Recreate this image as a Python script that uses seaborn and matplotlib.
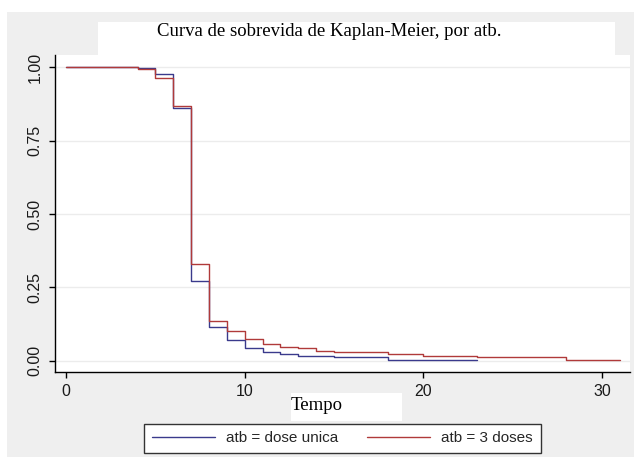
import numpy as np
import pandas as pd
import matplotlib
matplotlib.use('Agg')
import matplotlib.pyplot as plt
import seaborn as sns
from matplotlib.patches import Rectangle

# Kaplan-Meier estimates (tempo, sobrevida)
tempo_unica = [0, 4, 5, 6, 7, 8, 9, 10, 11, 12, 13, 15, 18, 23]
surv_unica = [1.0, 0.998, 0.976, 0.862, 0.271, 0.114, 0.069, 0.045, 0.028, 0.024, 0.016, 0.012, 0.003, 0.003]

tempo_3doses = [0, 4, 5, 6, 7, 8, 9, 10, 11, 12, 13, 14, 15, 18, 20, 23, 28, 31]
surv_3doses = [1.0, 0.995, 0.962, 0.869, 0.330, 0.135, 0.102, 0.074, 0.057, 0.048, 0.044, 0.032, 0.028, 0.024,
               0.016, 0.0115, 0.003, 0.003]

grupos = ['atb = dose unica', 'atb = 3 doses']
cores = ['#3a3a8c', '#b03a3a']
yticks = [0, 0.25, 0.5, 0.75, 1.0]
ytick_labels = ['0.00', '0.25', '0.50', '0.75', '1.00']
xticks = [0, 10, 20, 30]

df = pd.concat([
    pd.DataFrame({'tempo': tempo_unica, 'sobrevida': surv_unica, 'atb': grupos[0]}),
    pd.DataFrame({'tempo': tempo_3doses, 'sobrevida': surv_3doses, 'atb': grupos[1]}),
])

sns.set_style('white')
plt.rcParams['font.family'] = ['Liberation Sans', 'DejaVu Sans']

W, H = 641, 467
fig = plt.figure(figsize=(W / 100, H / 100), dpi=100, facecolor='white')

def fx(px):
    return px / W

def fy(py):
    return 1 - py / H

# gray backdrop and white boxes (Stata look)
fig.patches.append(Rectangle((fx(7), fy(457)), fx(634) - fx(7), fy(12) - fy(457),
                             transform=fig.transFigure, facecolor='#efefef', edgecolor='none', zorder=-2))
fig.patches.append(Rectangle((fx(98), fy(56)), fx(615) - fx(98), fy(22) - fy(56),
                             transform=fig.transFigure, facecolor='white', edgecolor='none', zorder=-1))
fig.patches.append(Rectangle((fx(291), fy(421)), fx(402) - fx(291), fy(393) - fy(421),
                             transform=fig.transFigure, facecolor='white', edgecolor='none', zorder=-1))

ax = fig.add_axes([fx(55), fy(372), fx(630) - fx(55), fy(55) - fy(372)])
ax.set_zorder(1)
ax.set_facecolor('white')

sns.lineplot(data=df, x='tempo', y='sobrevida', hue='atb', hue_order=grupos, palette=cores,
             drawstyle='steps-post', estimator=None, linewidth=1.0, ax=ax)

ax.set_xlim(-0.62, 31.56)
ax.set_ylim(-0.0385, 1.042)
ax.set_xticks(xticks)
ax.set_xticklabels([str(t) for t in xticks])
ax.set_yticks(yticks)
ax.set_yticklabels(ytick_labels, rotation=90, va='center')
ax.yaxis.grid(True, color='#ececec', linewidth=1)
ax.xaxis.grid(False)
ax.set_xlabel('')
ax.set_ylabel('')

for s in ['top', 'right']:
    ax.spines[s].set_visible(False)
for s in ['left', 'bottom']:
    ax.spines[s].set_color('black')
    ax.spines[s].set_linewidth(1)

ax.tick_params(axis='both', which='major', length=4, width=1, color='black',
               labelsize=11.5, labelcolor='#1a1a1a', bottom=True, left=True)
ax.tick_params(axis='x', pad=5)
ax.tick_params(axis='y', pad=5)

fig.text(fx(329), fy(31), 'Curva de sobrevida de Kaplan-Meier, por atb.', ha='center', va='center',
         family='Liberation Serif', fontsize=13.5, color='black')
fig.text(fx(291), fy(406), 'Tempo', ha='left', va='center',
         family='Liberation Serif', fontsize=13.5, color='black')

handles, labels = ax.get_legend_handles_labels()
ax.get_legend().remove()
leg = fig.legend(handles, labels, loc='center', bbox_to_anchor=(fx(342.5), fy(438.5)), ncol=2,
                 frameon=True, fancybox=False, edgecolor='#333333', facecolor='white', framealpha=1,
                 fontsize=11, handlelength=4.1, handletextpad=0.75, columnspacing=1.9,
                 borderpad=0.5, borderaxespad=0)
leg.get_frame().set_linewidth(1)

fig.savefig('out.png', dpi=100, facecolor='white')
